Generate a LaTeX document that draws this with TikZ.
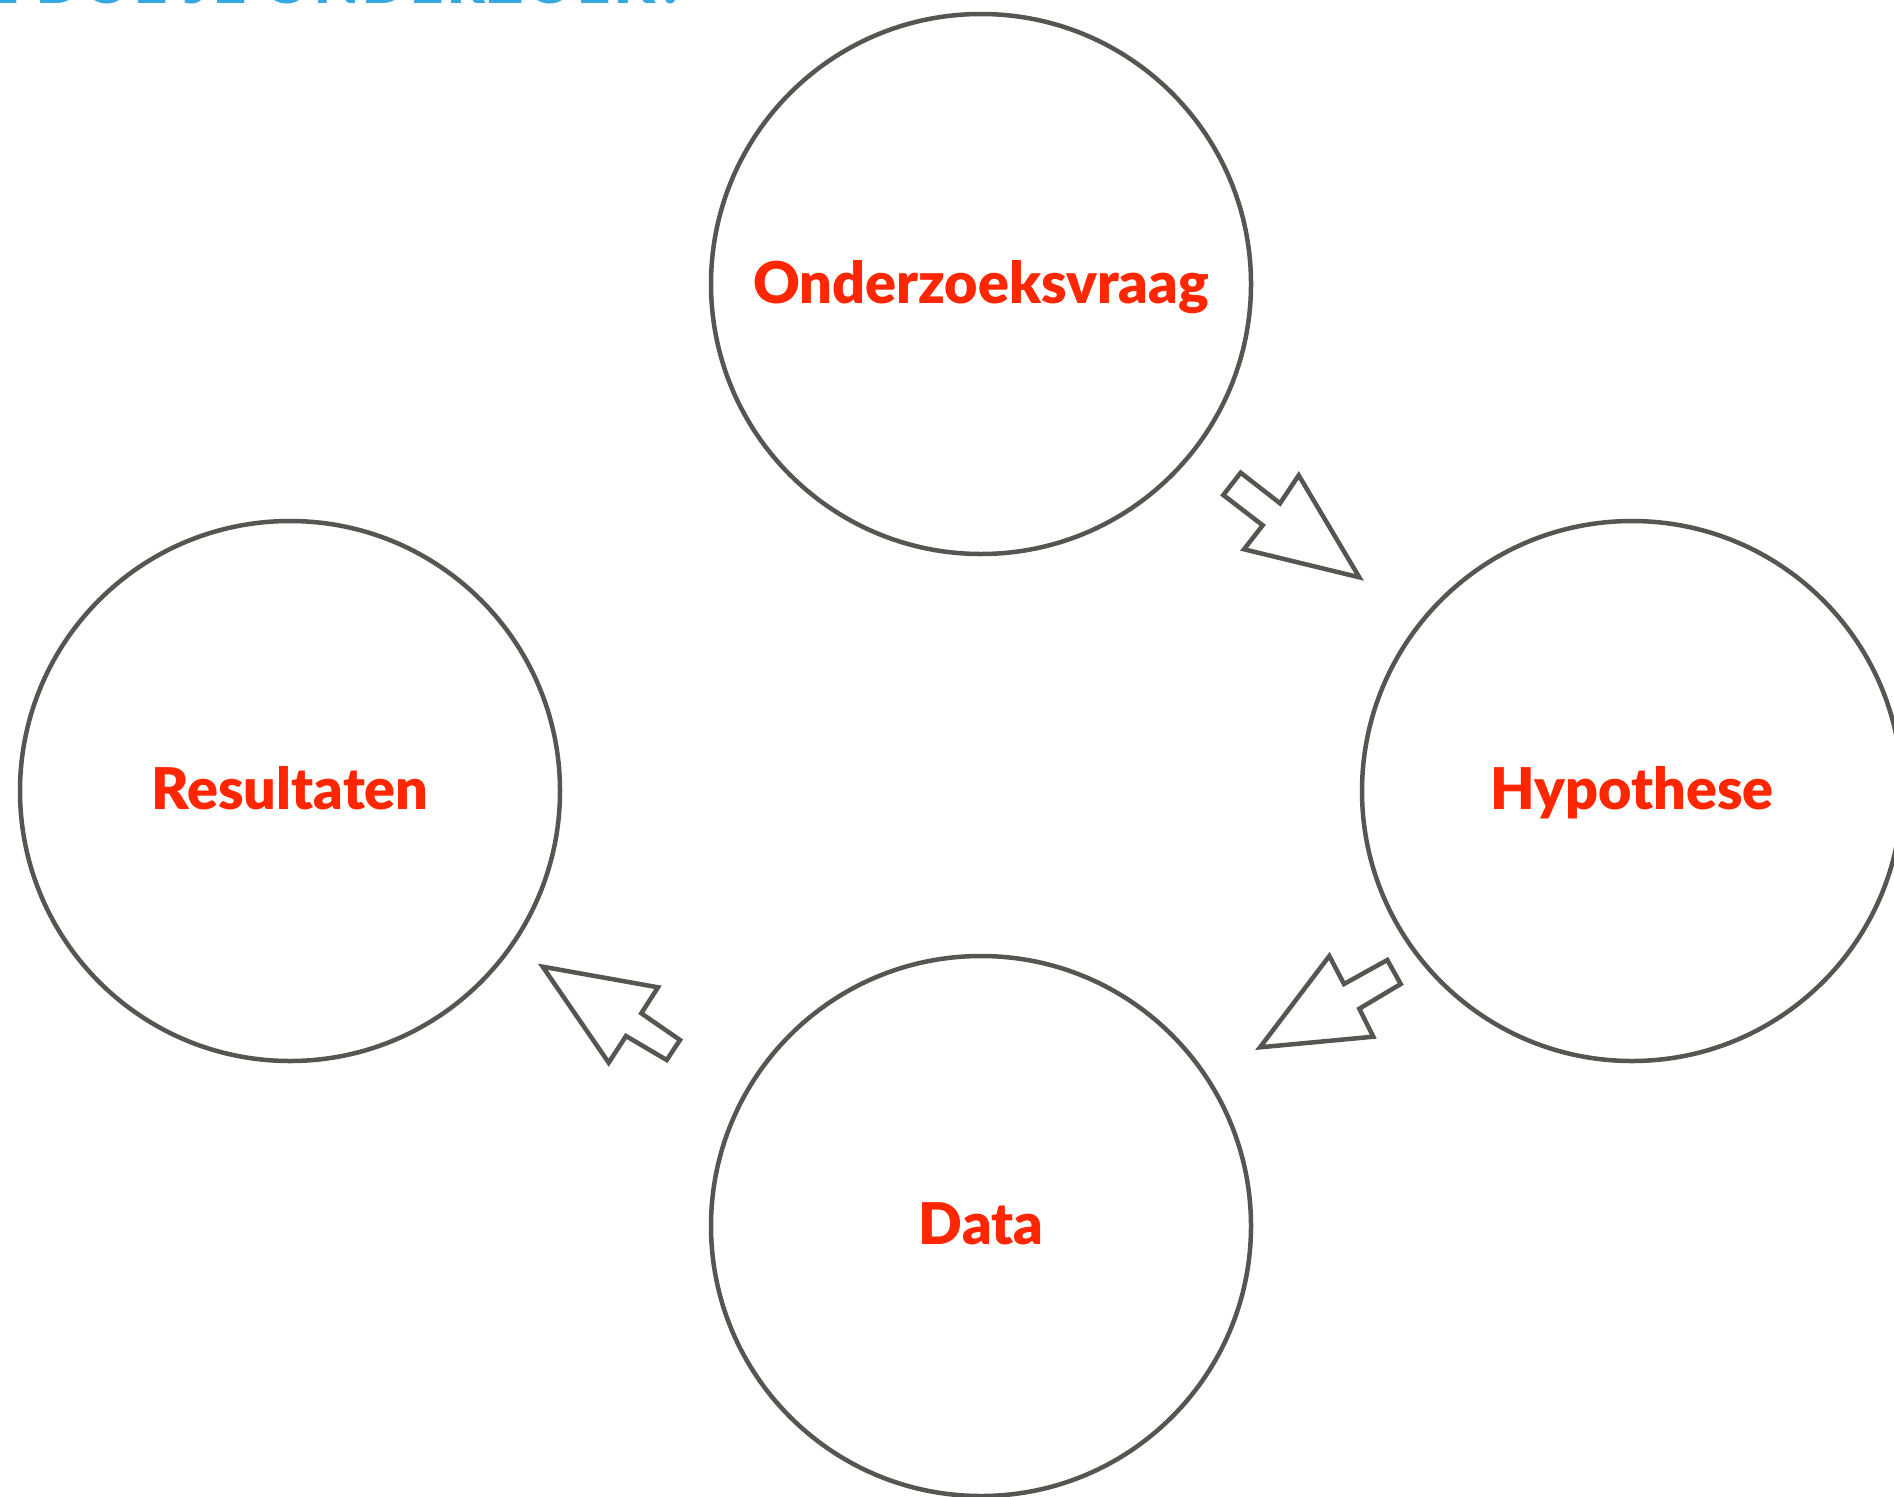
\documentclass[tikz,border=0pt]{standalone}
\usepackage{fontspec}
\setmainfont{Lato}[BoldFont=Lato Black]
\newfontfamily\labfont{Lato}[UprightFont=* Black]
\newfontfamily\titlefont{Lato}[UprightFont=* Black, LetterSpace=6]
\definecolor{edgegray}{RGB}{87,85,80}
\definecolor{labred}{RGB}{255,38,0}
\definecolor{titleblue}{RGB}{53,168,224}
\begin{document}
\begin{tikzpicture}[x=1pt,y=-1pt,
  stage/.style={circle,draw=edgegray,line width=4.5pt,minimum size=540pt,inner sep=0pt},
  lab/.style={text=labred,font=\labfont\fontsize{57.5}{60}\selectfont,anchor=base,inner sep=0pt},
  blockarrow/.style={draw=edgegray,line width=4.5pt,line join=miter,fill=white}]
\useasboundingbox (0,0) rectangle (1894,1496);
\clip (0,0) rectangle (1894,1496);
\fill[white] (0,0) rectangle (1894,1496);
% title (cut off at the top)
\node[text=titleblue,font=\titlefont\fontsize{58}{60}\selectfont,anchor=base east,inner sep=0pt] (title) at (686,3.5) {HOE DOE JE ONDERZOEK?};
% stages
\node[stage] (q) at (981,284) {};
\node[stage] (h) at (1632,791) {};
\node[stage] (d) at (981,1226) {};
\node[stage] (r) at (290,791) {};
\node[lab] (ql) at (981,303) {Onderzoeksvraag};
\node[lab] (hl) at (1632,809) {Hypothese};
\node[lab] (dl) at (981,1244) {Data};
\node[lab] (rl) at (290,809) {Resultaten};
% block arrows
\draw[blockarrow] (1240.7,472.7) -- (1280,503.3) -- (1298.7,475.3) -- (1359.3,577.3) -- (1244,549.3) -- (1262.7,525.3) -- (1223.3,495) -- cycle;
\draw[blockarrow] (1260,1047.3) -- (1329.3,956) -- (1344,984) -- (1387.3,960) -- (1400.7,984) -- (1359.3,1008.7) -- (1373.3,1036.7) -- cycle;
\draw[blockarrow] (542.7,966.7) -- (658,987.3) -- (641.3,1013.3) -- (680,1040) -- (666.7,1060) -- (626,1036) -- (608.7,1062.7) -- cycle;
\end{tikzpicture}
\end{document}
